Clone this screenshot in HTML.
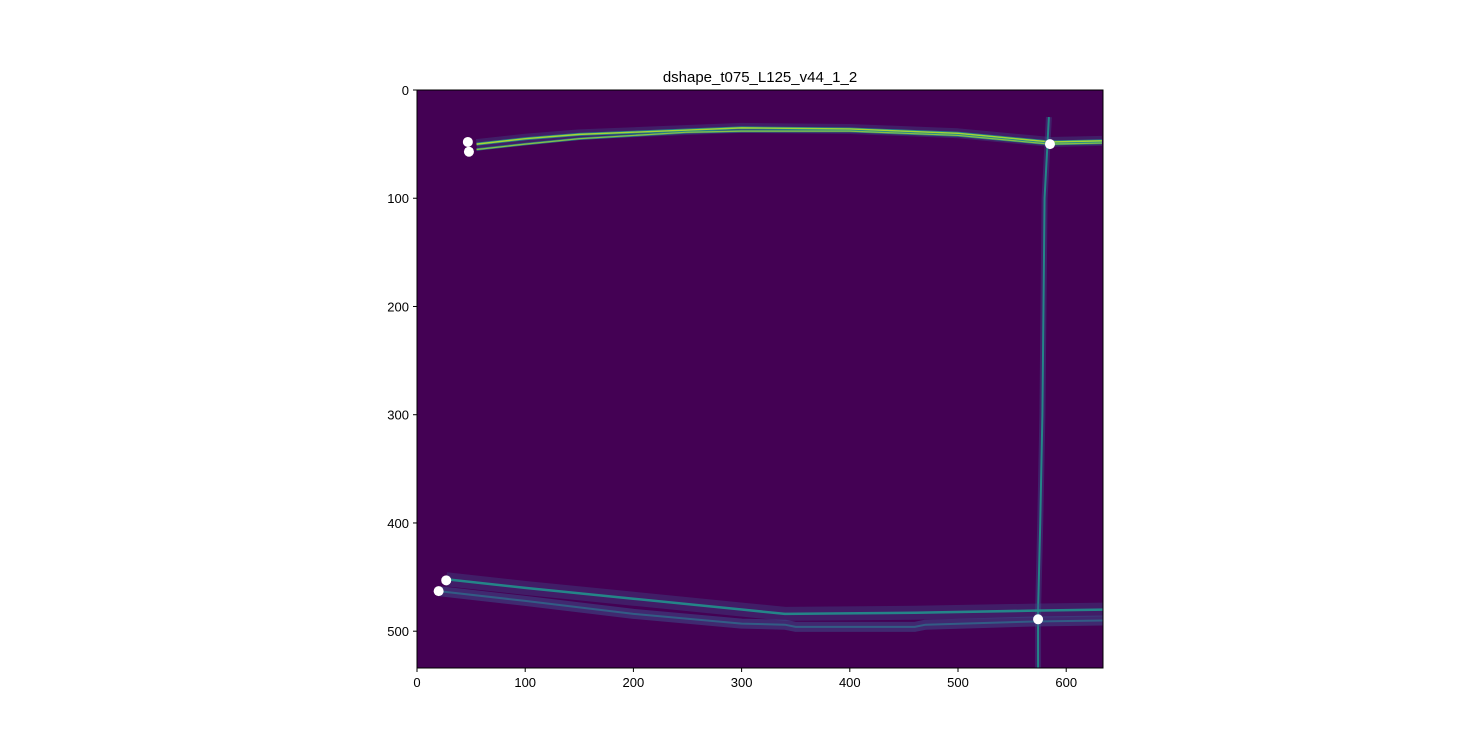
<!DOCTYPE html>
<html><head><meta charset="utf-8"><style>
body{margin:0;background:#fff;}
svg text{font-family:"Liberation Sans",sans-serif;font-size:13px;fill:#000;}
</style></head><body>
<svg id="chart" width="1483" height="751">
<defs><clipPath id="clip"><rect x="417" y="90" width="686" height="578"/></clipPath></defs>
<text x="760" y="82" text-anchor="middle" style="font-size:15px">dshape_t075_L125_v44_1_2</text>
<rect x="417" y="90" width="686" height="578" fill="#440154"/>
<g id="plot" clip-path="url(#clip)"></g>
<rect x="417" y="90" width="686" height="578" fill="none" stroke="#000" stroke-width="1"/>
<g id="axes"></g>
</svg>
<script>
const xTicks=[0,100,200,300,400,500,600];
const yTicks=[0,100,200,300,400,500];
const topStrandA=[[55,50],[100,45],[150,41],[200,39],[250,37],[300,35],[400,36],[500,40],[585,48],[633,47]];
const topStrandB=[[55,55],[100,50],[150,45],[200,42],[250,39],[300,38],[400,38],[500,42],[585,50],[633,49]];
const verticalLine=[[584,25],[580,100],[579,200],[578,300],[576,400],[574,480],[574,540]];
const bottomUpper=[[27,452],[100,460],[200,470],[300,480],[340,484],[460,483],[570,481],[640,480]];
const bottomLower=[[20,463],[100,472],[200,484],[300,493],[340,494],[350,496],[460,496],[470,494],[570,491],[640,490]];
const markers=[[47,48],[48,57],[585,50],[27,453],[20,463],[574,489]];
const X0=417,Y0=90,S=686/634,SY=578/534;
const sx=v=>X0+v*S, sy=v=>Y0+v*SY;
const NS="http://www.w3.org/2000/svg";
const plot=document.getElementById('plot'), axes=document.getElementById('axes');
function mk(t,a,p){const e=document.createElementNS(NS,t);for(const k in a)e.setAttribute(k,a[k]);p.appendChild(e);return e;}
function pts(arr){return arr.map(p=>sx(p[0])+','+sy(p[1])).join(' ');}
function line(arr,name,layers){layers.forEach(l=>{const e=mk('polyline',{points:pts(arr),fill:'none',stroke:l[0],'stroke-width':l[1],opacity:l[2],'stroke-linejoin':'round','stroke-linecap':'butt'},plot);

});}
line(topStrandA,'top-edge-strand-a',[['#3b528b',10,0.35],['#21918c',3,0.9],['#b5de2b',1.4,0.9]]);
line(topStrandB,'top-edge-strand-b',[['#21918c',2.5,0.8],['#b5de2b',1.2,0.7]]);
line(verticalLine,'right-edge-line',[['#3b528b',6,0.4],['#21918c',2,0.9]]);
line(bottomUpper,'bottom-edge-upper',[['#3b528b',14,0.35],['#21918c',2.5,0.9]]);
line(bottomLower,'bottom-edge-lower',[['#3b528b',10,0.5],['#2c728e',2,0.7]]);
markers.forEach(m=>{const c=mk('circle',{cx:sx(m[0]),cy:sy(m[1]),r:5,fill:'#fff'},plot);

});
xTicks.forEach(v=>{const x=sx(v);mk('line',{x1:x,x2:x,y1:668,y2:672,stroke:'#000'},axes);
const t=mk('text',{x:x,y:687,'text-anchor':'middle'},axes);t.textContent=v;

});
yTicks.forEach(v=>{const y=sy(v);mk('line',{x1:413,x2:417,y1:y,y2:y,stroke:'#000'},axes);
const t=mk('text',{x:409,y:y+5,'text-anchor':'end'},axes);t.textContent=v;

});
</script>
</body></html>
